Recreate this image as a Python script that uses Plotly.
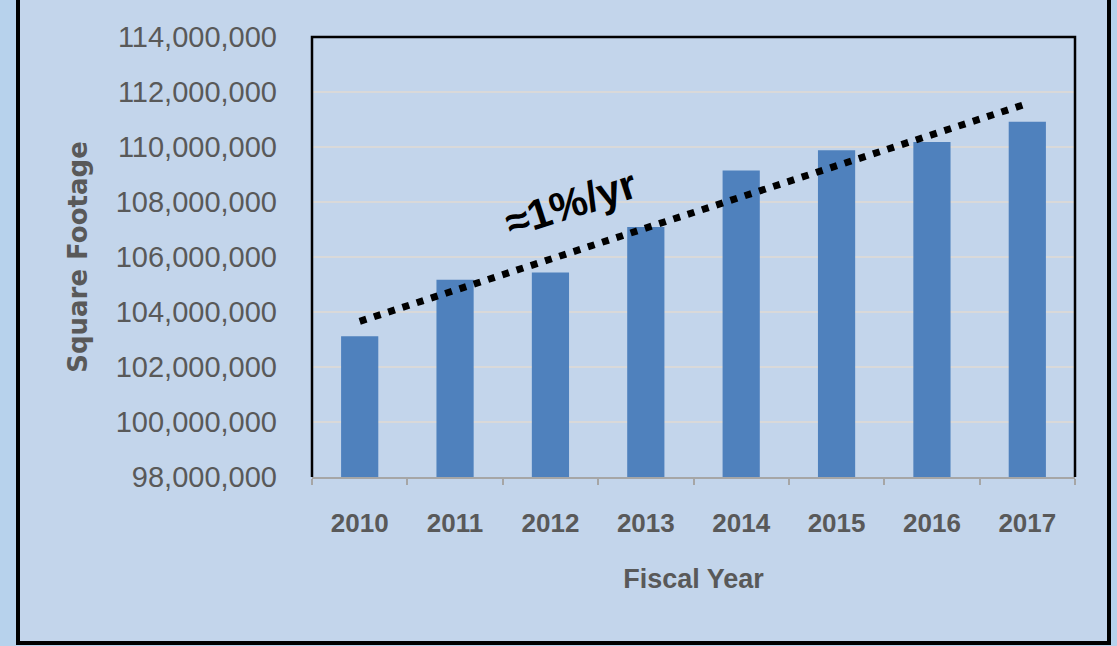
import numpy as np
import plotly.graph_objects as go

# ---- data ----
years = ["2010", "2011", "2012", "2013", "2014", "2015", "2016", "2017"]
square_footage = [103120000, 105170000, 105440000, 107090000, 109150000, 109880000, 110180000, 110920000]
y_ticks = [98000000, 100000000, 102000000, 104000000, 106000000, 108000000, 110000000, 112000000, 114000000]
trend_label = "≈1%/yr"

# linear trendline (as Excel's chart trendline) fitted to the bar values
idx = np.arange(len(years))
slope, intercept = np.polyfit(idx, square_footage, 1)
trend_vals = [intercept + slope * idx[0], intercept + slope * idx[-1]]
trend_x = [years[0], years[-1]]

W, H = 1117, 646
ML, MR, MT, MB = 312, 42, 37, 169
PW, PH = W - ML - MR, H - MT - MB

def px_x(p):
    return (p - ML) / PW

def px_y(p):
    return (H - MB - p) / PH

fig = go.Figure()
fig.add_trace(go.Bar(
    x=years, y=square_footage,
    marker=dict(color="#4F81BD", line=dict(width=0)),
    width=0.39, showlegend=False,
))
fig.add_trace(go.Scatter(
    x=trend_x, y=trend_vals, mode="lines",
    line=dict(color="black", width=7, dash="7px,8px"),
    showlegend=False, hoverinfo="skip",
))

gray = "#595959"
fig.update_layout(
    width=W, height=H,
    margin=dict(l=ML, r=MR, t=MT, b=MB, autoexpand=False),
    paper_bgcolor="#B7D2EC",
    plot_bgcolor="#F1F5FB",
    xaxis=dict(
        type="category",
        showgrid=False,
        showline=True, linecolor="#A6A6A6", linewidth=2,
        ticks="outside", tickson="boundaries", ticklen=6, tickcolor="#A6A6A6", tickwidth=1.5,
        tickfont=dict(family="Liberation Sans, Arial, sans-serif", size=26, color=gray, weight="bold"),
        ticklabelstandoff=22,
        title=dict(text="<b>Fiscal Year</b>", standoff=32,
                   font=dict(family="Liberation Sans, Arial, sans-serif", size=27, color=gray)),
        automargin=False,
    ),
    yaxis=dict(
        range=[98000000, 114000000],
        tickvals=y_ticks,
        tickformat=",d",
        showgrid=True, gridcolor="#D9D9D9", gridwidth=1.5,
        zeroline=False, showline=False, ticks="",
        tickfont=dict(family="Liberation Sans, Arial, sans-serif", size=29, color=gray),
        ticklabelstandoff=34,
        title=dict(text="<b>Square Footage</b>", standoff=20,
                   font=dict(family="DejaVu Sans, sans-serif", size=26, color=gray)),
        automargin=False,
    ),
    bargap=0.61,
)

# outer textured panel with black border (left, right, bottom)
fig.add_shape(type="rect", xref="paper", yref="paper", layer="below",
              x0=px_x(18), x1=px_x(1109), y0=px_y(643), y1=px_y(-10),
              fillcolor="#C3D5EB", line=dict(color="black", width=4))
# plot area frame (top, left, right) in black
fig.add_shape(type="path", xref="paper", yref="paper",
              path="M 0,0 L 0,1 L 1,1 L 1,0",
              line=dict(color="black", width=2.5))

fig.add_annotation(
    x=px_x(570), y=px_y(203), xref="paper", yref="paper",
    text=f"<b>{trend_label}</b>", showarrow=False, textangle=-18,
    font=dict(family="Liberation Sans, Arial, sans-serif", size=42, color="black"),
)

fig.write_html("out.html",
               config={"displayModeBar": False},
               post_script="document.body.style.margin='0';document.body.style.overflow='hidden';")
